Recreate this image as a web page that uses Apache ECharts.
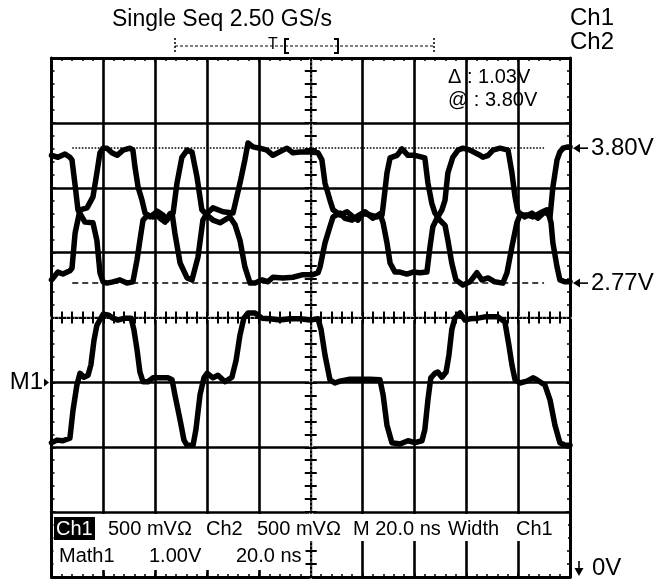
<!DOCTYPE html>
<html><head><meta charset="utf-8">
<script src="https://cdn.jsdelivr.net/npm/echarts@6/dist/echarts.min.js"></script>
<style>html,body{margin:0;padding:0;background:#fff}#c{width:660px;height:586px}</style>
</head><body><div id="c"></div>
<script>
const FONT = '"Liberation Sans", Arial, sans-serif';
// time in ns (20 ns/div), vertical position in graticule divisions (0 = bottom, 8 = top)
const ch1 = [
[0,6.50],[2.5,6.47],[5.2,6.52],[7.1,6.47],[7.9,6.43],[9.1,6.04],[10.2,5.66],[12.9,5.47],[16.0,5.46],[17.5,5.19],[18.7,4.69],[19.9,4.55],[21.4,4.53],[23.7,4.55],[26.4,4.58],[29.1,4.53],[31.4,4.55],[33.0,4.89],[34.1,5.19],[35.3,5.50],[37.2,5.58],[39.1,5.55],[40.7,5.64],[43.0,5.58],[44.5,5.50],[46.5,5.61],[47.6,5.30],[49.6,4.84],[52.3,4.61],[54.2,4.58],[56.5,4.93],[58.4,5.50],[60.0,5.61],[62.3,5.69],[66.2,5.63],[70.0,5.61],[72.7,6.07],[74.6,6.43],[75.8,6.69],[77.7,6.63],[80.4,6.61],[83.1,6.58],[85.4,6.50],[89.3,6.58],[90.8,6.61],[93.1,6.54],[95.8,6.55],[99.7,6.55],[102.8,6.54],[104.3,6.43],[105.5,6.07],[107.4,5.81],[108.6,5.66],[111.3,5.58],[114.0,5.63],[116.3,5.55],[118.2,5.50],[120.2,5.61],[122.8,5.58],[125.5,5.55],[127.5,5.58],[128.2,5.81],[129.4,6.23],[130.6,6.46],[133.3,6.50],[135.2,6.60],[137.5,6.50],[140.2,6.50],[144.0,6.46],[145.2,6.07],[146.7,5.76],[147.9,5.61],[149.8,5.50],[151.8,5.42],[152.9,5.19],[154.4,4.84],[156.0,4.58],[158.7,4.50],[161.4,4.55],[164.1,4.69],[166.0,4.58],[168.4,4.61],[171.0,4.55],[174.1,4.53],[175.7,4.69],[177.6,5.09],[179.5,5.46],[180.7,5.58],[183.4,5.58],[185.7,5.55],[188.4,5.61],[191.1,5.66],[192.3,5.55],[193.4,6.01],[195.0,6.43],[196.1,6.55],[197.3,6.61],[199.2,6.63],[200,6.63]
];
const ch2 = [
[0,4.58],[2.5,4.70],[4.4,4.67],[7.1,4.72],[7.9,4.76],[9.1,5.30],[11.0,5.66],[13.7,5.69],[16.0,5.86],[17.5,6.23],[18.7,6.54],[19.9,6.61],[21.4,6.61],[23.3,6.54],[25.3,6.50],[27.6,6.58],[30.3,6.61],[31.4,6.58],[32.2,6.32],[33.4,6.01],[34.9,5.81],[36.1,5.61],[38.0,5.55],[39.9,5.61],[41.9,5.53],[43.8,5.47],[45.7,5.60],[46.9,5.61],[48.4,6.07],[50.3,6.47],[52.3,6.58],[54.2,6.55],[56.1,6.17],[58.0,5.66],[60.0,5.58],[62.3,5.50],[65.0,5.46],[68.8,5.55],[70.8,5.43],[72.7,5.19],[74.6,4.78],[76.6,4.53],[78.5,4.53],[81.2,4.58],[83.5,4.55],[85.4,4.62],[89.3,4.61],[93.1,4.62],[97.0,4.66],[100.8,4.66],[102.8,4.69],[103.6,4.78],[105.5,5.15],[107.4,5.40],[108.6,5.55],[111.3,5.61],[113.2,5.53],[115.9,5.50],[117.8,5.56],[120.9,5.63],[124.0,5.53],[126.7,5.60],[127.9,5.46],[129.4,5.15],[130.6,4.84],[132.5,4.70],[134.4,4.70],[137.1,4.67],[139.4,4.70],[142.1,4.69],[144.8,4.70],[146.0,5.09],[147.1,5.40],[148.7,5.53],[150.6,5.66],[151.8,5.81],[152.9,6.23],[154.8,6.47],[156.8,6.58],[158.7,6.61],[161.4,6.58],[165.3,6.50],[166.4,6.47],[168.4,6.50],[170.3,6.58],[173.0,6.61],[176.1,6.58],[177.6,6.23],[178.8,5.86],[179.9,5.63],[182.6,5.55],[185.3,5.61],[187.6,5.53],[190.3,5.63],[191.9,5.58],[192.7,5.46],[193.4,5.15],[195.0,4.78],[196.1,4.58],[198.1,4.55],[200,4.55]
];
const math1 = [
[0,2.07],[2.1,2.11],[4.4,2.10],[7.1,2.14],[8.3,2.57],[9.8,2.96],[11.0,3.14],[12.5,3.08],[14.1,3.11],[15.2,3.27],[16.4,3.65],[17.5,3.88],[19.9,4.05],[21.8,4.04],[23.7,3.99],[25.6,3.96],[28.3,3.99],[30.7,3.99],[31.8,3.81],[33.0,3.50],[34.1,3.16],[35.3,3.01],[37.2,3.01],[39.1,3.07],[41.9,3.07],[44.9,3.07],[46.5,3.04],[47.6,2.81],[49.6,2.42],[51.1,2.11],[52.3,2.03],[54.6,2.03],[55.7,2.27],[57.3,2.81],[58.8,3.07],[60.0,3.14],[62.3,3.07],[64.2,3.11],[66.9,3.01],[69.6,3.08],[71.2,3.34],[72.7,3.73],[74.2,3.99],[75.8,4.07],[78.5,4.07],[81.2,3.99],[84.3,3.98],[88.1,3.96],[92.0,3.98],[95.8,3.98],[99.7,3.96],[102.8,3.98],[104.0,3.81],[105.5,3.42],[107.4,3.04],[109.3,2.99],[111.3,3.02],[115.1,3.05],[119.0,3.05],[122.8,3.05],[126.7,3.04],[127.9,2.81],[129.4,2.34],[131.3,2.07],[134.4,2.05],[137.5,2.10],[140.2,2.07],[142.9,2.10],[144.0,2.27],[145.2,2.73],[146.3,3.07],[147.9,3.14],[149.0,3.16],[150.6,3.08],[152.2,3.16],[153.3,3.42],[154.4,3.81],[155.6,3.99],[157.6,4.07],[159.5,3.96],[161.4,3.98],[164.5,3.99],[167.2,4.01],[172.2,4.01],[174.9,3.93],[176.4,3.58],[177.6,3.27],[178.8,3.04],[180.7,2.99],[183.4,3.02],[185.7,3.07],[187.2,3.04],[190.3,2.96],[192.3,2.73],[194.2,2.34],[196.1,2.07],[198.1,2.03],[200,2.03]
];
const cursorLevels = [6.61, 4.53];      // divisions
const cursorLabels = ['3.80V', '2.77V'];
const cursorSpan = [8, 190];            // ns
const m1Level = 3.0;                    // divisions
const headerText = 'Single Seq 2.50 GS/s';
const channelLabels = ['Ch1', 'Ch2'];
const readouts = ['\u0394 : 1.03V', '@ : 3.80V'];
const row1 = ['Ch1', '500 mV\u03A9', 'Ch2', '500 mV\u03A9', 'M 20.0 ns', 'Width', 'Ch1'];
const row2 = ['Math1', '1.00V', '20.0 ns'];

const chart = echarts.init(document.getElementById('c'), null, {renderer: 'canvas'});
const gridBox = {left: 51.5, right: 90, top: 58, bottom: 9};
const K = '#000';
function grid(){ return Object.assign({outerBoundsMode: 'none', containLabel: false}, gridBox); }
function mainAxis(dim, pos, split){
  const isX = dim === 'x';
  return {
    gridIndex: 0, type: 'value', position: pos,
    min: 0, max: isX ? 200 : 8, interval: isX ? 20 : 1,
    axisLine: {show: true, onZero: false, lineStyle: {color: K, width: 3}},
    axisTick: {show: true, inside: true, length: 4, lineStyle: {color: K, width: 1.5}},
    minorTick: {show: true, splitNumber: 5, length: 3, lineStyle: {color: K, width: 1.5}},
    axisLabel: {show: false},
    splitLine: {show: split, lineStyle: {color: K, width: 2.6}},
    minorSplitLine: {show: false}
  };
}
function centerAxis(dim, gi, mode){
  const isX = dim === 'x';
  const a = {
    gridIndex: gi, type: 'value', z: gi,
    min: isX ? -100 : -4, max: isX ? 100 : 4, interval: isX ? 4 : 0.2,
    axisLabel: {show: false}, splitLine: {show: false},
    axisLine: {show: true, onZero: true, lineStyle: {color: 'rgba(0,0,0,0)', width: 1}},
    axisTick: {show: false}
  };
  if (mode === 'erase') a.axisLine.lineStyle = {color: '#fff', width: 3.5};
  if (mode === 'dots') { a.axisLine.lineStyle = {color: K, width: 2, type: 'dotted'};
    a.axisTick = {show: true, inside: true, length: 6, lineStyle: {color: K, width: 2}}; }
  if (mode === 'out') a.axisTick = {show: true, inside: false, length: 6, lineStyle: {color: K, width: 2}};
  return a;
}
const traceStyle = {color: K, width: 5.5, join: 'round', cap: 'round'};
function trace(name, data){
  return {name, type: 'line', data, xAxisIndex: 0, yAxisIndex: 0, showSymbol: false, symbol: 'none',
    lineStyle: traceStyle, itemStyle: {color: K}, z: 5, silent: true, animation: false};
}
const cursorSeries = {
  type: 'line', data: [], xAxisIndex: 0, yAxisIndex: 0, z: 4, silent: true,
  markLine: {symbol: 'none', silent: true, animation: false, label: {show: false},
    data: cursorLevels.map((lv, i) => [
      {coord: [cursorSpan[0], lv], lineStyle: {color: K, width: 1.6, type: i === 0 ? 'dotted' : [6, 4]}},
      {coord: [cursorSpan[1], lv]}
    ])}
};
chart.setOption({
  backgroundColor: '#fff', animation: false,
  grid: [grid(), grid(), grid(), grid()],
  xAxis: [mainAxis('x', 'bottom', true), mainAxis('x', 'top', false),
          centerAxis('x', 1, 'erase'), centerAxis('x', 2, 'dots'), centerAxis('x', 3, 'out')],
  yAxis: [mainAxis('y', 'left', true), mainAxis('y', 'right', false),
          centerAxis('y', 1, 'erase'), centerAxis('y', 2, 'dots'), centerAxis('y', 3, 'out')],
  series: [trace('Ch1', ch1), trace('Ch2', ch2), trace('Math1', math1), cursorSeries]
});

const P = (t, v) => chart.convertToPixel({gridIndex: 0}, [t, v]);
const left = P(0, 0)[0], right = P(200, 0)[0], bottom = P(0, 0)[1];
function txt(s, x, y, size, opts){
  opts = opts || {};
  return {type: 'text', z: 100, x, y, style: {text: s, font: (opts.weight || 'normal') + ' ' + size + 'px ' + FONT,
    fill: opts.fill || K, align: opts.align || 'left', verticalAlign: 'middle',
    textAlign: opts.align || 'left', textVerticalAlign: 'middle'}};
}
function ln(x1, y1, x2, y2, w, dash){
  return {type: 'line', z: 100, shape: {x1, y1, x2, y2}, style: {stroke: K, lineWidth: w || 1, lineDash: dash || null}};
}
function poly(pts){ return {type: 'polygon', z: 100, shape: {points: pts}, style: {fill: K}}; }
const g = [];
// header
g.push(txt(headerText, 112, 20, 23));
g.push(txt(channelLabels[0], 570, 18, 24));
g.push(txt(channelLabels[1], 570, 42, 24));
// record bracket
g.push(ln(175, 46, 434, 46, 1, [3, 2]));
g.push(ln(175, 38, 175, 54, 1.5, [2, 2]));
g.push(ln(434, 38, 434, 54, 1.5, [2, 2]));
g.push(txt('T', 268, 45, 16));
g.push({type: 'polyline', z: 100, shape: {points: [[289, 39], [285, 39], [285, 53], [289, 53]]}, style: {stroke: K, lineWidth: 2, fill: null}});
g.push({type: 'polyline', z: 100, shape: {points: [[334, 39], [338, 39], [338, 53], [334, 53]]}, style: {stroke: K, lineWidth: 2, fill: null}});
// readouts
g.push(txt(readouts[0], 448, 77, 20));
g.push(txt(readouts[1], 448, 100, 20));
// cursor labels on right
cursorLevels.forEach((lv, i) => {
  const y = P(200, lv)[1];
  g.push(poly([[573, y], [580, y - 4.5], [580, y + 4.5]]));
  g.push(ln(578, y, 588, y, 1.6));
  g.push(txt(cursorLabels[i], 591, y, 24));
});
// M1 marker
const ym = P(0, m1Level)[1];
g.push(txt('M1', 43, ym, 24, {align: 'right'}));
g.push(poly([[44, ym - 4], [49, ym], [44, ym + 4]]));
// 0V marker
g.push(ln(579, 561, 579, 571, 1.6));
g.push(poly([[574.5, 568], [583.5, 568], [579, 576]]));
g.push(txt('0V', 592, 568, 24));
// bottom readout area
g.push({type: 'rect', z: 99, shape: {x: left + 2, y: 514, width: right - left - 4, height: 27}, style: {fill: '#fff'}});
g.push({type: 'rect', z: 99, shape: {x: left + 2, y: 541, width: 252, height: 29}, style: {fill: '#fff'}});
g.push({type: 'rect', z: 100, shape: {x: 54, y: 517, width: 41, height: 23}, style: {fill: K}});
const r1x = [56, 108, 206, 257, 353, 448, 516];
row1.forEach((s, i) => g.push(txt(s, r1x[i], 529, 20, {fill: i === 0 ? '#fff' : K})));
const r2x = [59, 149, 236];
row2.forEach((s, i) => g.push(txt(s, r2x[i], 556, 20)));
chart.setOption({graphic: {elements: g}});
</script></body></html>
